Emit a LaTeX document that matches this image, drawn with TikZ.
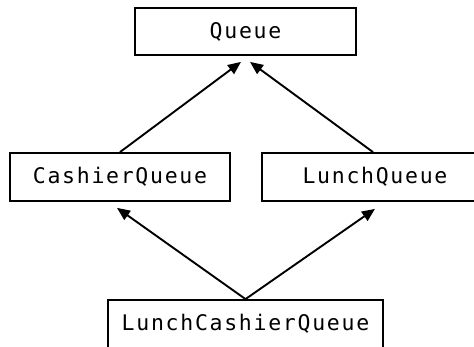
\documentclass[tikz,border=0pt]{standalone}
\usepackage{fontspec}
\newfontfamily\boxfont[LetterSpace=8]{DejaVu Sans Mono}
\usetikzlibrary{arrows.meta}
\begin{document}
\begin{tikzpicture}[x=1pt,y=-1pt,
  cls/.style={draw, line width=1.8pt, inner sep=0pt, font=\boxfont\fontsize{21.5}{25}\selectfont},
  arr/.style={line width=1.9pt, -{Triangle[length=13pt,width=11pt]}}]
\useasboundingbox (0,0) rectangle (474,347);
\clip (0,0) rectangle (474,347);
\node[cls, minimum width=221pt, minimum height=47pt] (q) at (245.5,31.5) {Queue};
\node[cls, minimum width=220pt, minimum height=48pt] (cq) at (120,177) {CashierQueue};
\node[cls, minimum width=226pt, minimum height=48pt] (lq) at (375,177) {LunchQueue};
\node[cls, minimum width=275pt, minimum height=48pt] (lcq) at (245.5,324) {LunchCashierQueue};
\draw[arr] (cq.north) -- ([xshift=-4.5pt,yshift=-6pt]q.south);
\draw[arr] ([xshift=-2pt]lq.north) -- ([xshift=4.5pt,yshift=-6pt]q.south);
\draw[arr] (lcq.north) -- ([xshift=-3pt,yshift=-6pt]cq.south);
\draw[arr] (lcq.north) -- ([yshift=-7pt]lq.south);
\end{tikzpicture}
\end{document}
